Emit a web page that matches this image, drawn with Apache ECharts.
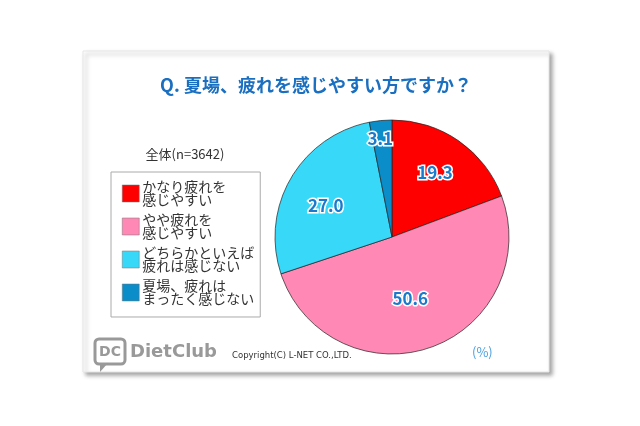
<!DOCTYPE html>
<html><head><meta charset="utf-8">
<script src="https://cdn.jsdelivr.net/npm/echarts@6/dist/echarts.min.js"></script>
<style>html,body{margin:0;padding:0;background:#fff}#c{width:640px;height:426px}</style>
</head><body><div id="c"></div>
<script>
const categories = ['かなり疲れを感じやすい','やや疲れを感じやすい','どちらかといえば疲れは感じない','夏場、疲れはまったく感じない'];
const legendLines = ['かなり疲れを\n感じやすい','やや疲れを\n感じやすい','どちらかといえば\n疲れは感じない','夏場、疲れは\nまったく感じない'];
const values = [19.3, 50.6, 27.0, 3.1];
const colors = ['#ff0000','#ff88b4','#38d8f8','#0b8dc9'];
const titleText = 'Q. 夏場、疲れを感じやすい方ですか？';
const sampleText = '全体(n=3642)';

const FONT = '"Noto Sans CJK JP", "Noto Sans", sans-serif';
const chart = echarts.init(document.getElementById('c'), null, {renderer:'canvas'});
const data = categories.map((n,i)=>({name:n, value:values[i], itemStyle:{color:colors[i]}}));
const labelOffsets = [[-2,0],[-8,-13],[2,8],[-4,-20]];
const labelData = categories.map((n,i)=>({name:n, value:values[i], label:{offset:labelOffsets[i]}}));

chart.setOption({
  backgroundColor:'#ffffff',
  graphic:[
    {type:'rect', z:-10, shape:{x:83,y:51,width:466,height:321},
     style:{fill:'#fff', stroke:'#e6e6e6', lineWidth:1, shadowBlur:4, shadowOffsetX:3, shadowOffsetY:3, shadowColor:'rgba(0,0,0,0.35)'}},
    {type:'text', x:316, y:85, style:{text:titleText, fill:'#1a6fc0', font:'bold 18px '+FONT, align:'center', verticalAlign:'middle'}},
    {type:'text', x:185, y:154, style:{text:sampleText, fill:'#333', font:'13px '+FONT, align:'center', verticalAlign:'middle'}},
    {type:'text', x:232, y:356, style:{text:'Copyright(C) L-NET CO.,LTD.', fill:'#333', font:'8.5px "DejaVu Sans", sans-serif', verticalAlign:'middle'}},
    {type:'text', x:472, y:352, style:{text:'(%)', fill:'#4aa0e0', font:'13px '+FONT, verticalAlign:'middle'}},
    {type:'rect', shape:{x:95,y:339,width:30,height:25,r:4}, style:{fill:'none', stroke:'#999', lineWidth:3}},
    {type:'polygon', shape:{points:[[100,363],[100,372],[108,363]]}, style:{fill:'#999'}},
    {type:'text', x:110, y:352, style:{text:'DC', fill:'#999', font:'bold 14px "DejaVu Sans", sans-serif', align:'center', verticalAlign:'middle'}},
    {type:'text', x:130, y:352, style:{text:'DietClub', fill:'#999', font:'bold 18px "DejaVu Sans", sans-serif', verticalAlign:'middle'}}
  ],
  legend:{
    orient:'vertical', left:111, top:172,
    data:categories,
    formatter:(name)=>legendLines[categories.indexOf(name)],
    icon:'rect', itemWidth:17, itemHeight:17, itemGap:6,
    borderColor:'#aaa', borderWidth:1, padding:[8,6,11,11],
    selectedMode:false,
    itemStyle:{borderColor:'#777', borderWidth:0.5},
    textStyle:{fontFamily:FONT, fontSize:14, lineHeight:13, color:'#333', padding:[0,0,0,-2]}
  },
  series:[
    {type:'pie', center:[392,237], radius:117, startAngle:90, clockwise:true,
     data:data, label:{show:false}, labelLine:{show:false}, silent:true, animation:false,
     itemStyle:{borderColor:'#222', borderWidth:0.7}},
    {type:'pie', center:[392,237], radius:152, startAngle:90, clockwise:true,
     data:labelData, silent:true, animation:false, legendHoverLink:false,
     itemStyle:{color:'rgba(0,0,0,0)'}, labelLine:{show:false},
     label:{show:true, position:'inside', formatter:(p)=>p.value.toFixed(1),
       color:'#1a7acb', fontFamily:FONT, fontWeight:'bold', fontSize:17,
       textBorderColor:'#fff', textBorderWidth:3}}
  ]
});
</script></body></html>
